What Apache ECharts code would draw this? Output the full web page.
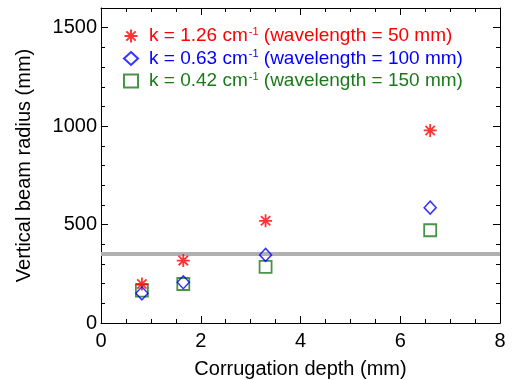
<!DOCTYPE html>
<html>
<head>
<meta charset="utf-8">
<script src="https://cdn.jsdelivr.net/npm/echarts@6/dist/echarts.min.js"></script>
<style>html,body{margin:0;padding:0;background:#fff}#c{width:512px;height:380px}</style>
</head>
<body>
<div id="c"></div>
<script>
// corrugation depth (mm)
const depths = [0.82, 1.65, 3.3, 6.6];
// vertical beam radius (mm) per wavenumber
const radius126 = [198, 317, 519, 978];
const radius063 = [151, 207, 346, 586];
const radius042 = [164, 198, 285, 471];
const seriesNames = [
  'k = 1.26 cm-1 (wavelength = 50 mm)',
  'k = 0.63 cm-1 (wavelength = 100 mm)',
  'k = 0.42 cm-1 (wavelength = 150 mm)'
];
const refLevel = 350;

const FONT = 'Liberation Sans, Arial, sans-serif';
const starPath = 'path://M0,-6L0,6M-6,0L6,0M-4.3,-4.3L4.3,4.3M-4.3,4.3L4.3,-4.3';

const pts = arr => arr.map((v, i) => [depths[i], v]);

const chart = echarts.init(document.getElementById('c'), null, { renderer: 'canvas' });

const xBase = {
  type: 'value', min: 0, max: 8, interval: 2,
  axisLine: { show: true, onZero: false, lineStyle: { color: '#000', width: 1 } },
  axisTick: { show: true, inside: true, length: 7, lineStyle: { color: '#000' } },
  minorTick: { show: true, splitNumber: 4, length: 4, lineStyle: { color: '#000' } },
  splitLine: { show: false }
};
const yBase = {
  type: 'value', min: 0, max: 1600, interval: 500,
  axisLine: { show: true, onZero: false, lineStyle: { color: '#000', width: 1 } },
  axisTick: { show: true, inside: true, length: 7, lineStyle: { color: '#000' } },
  minorTick: { show: true, splitNumber: 5, length: 4, lineStyle: { color: '#000' } },
  splitLine: { show: false }
};

chart.setOption({
  animation: false,
  backgroundColor: '#fff',
  grid: { left: 101, right: 12, top: 8, bottom: 57, outerBoundsMode: 'none', containLabel: false },
  legend: {
    orient: 'vertical',
    left: 118, top: 21,
    itemGap: 3,
    itemWidth: 14, itemHeight: 13,
    data: [
      { name: seriesNames[0], textStyle: { color: '#ff0000' } },
      { name: seriesNames[1], textStyle: { color: '#0000ff' } },
      { name: seriesNames[2], textStyle: { color: '#1a7a1a' } }
    ],
    formatter: n => n.replace('cm-1', 'cm{sup|-1}'),
    textStyle: {
      fontFamily: FONT, fontSize: 19, padding: [0, 0, 0, 6],
      rich: { sup: { fontSize: 11, verticalAlign: 'top', padding: [0, 0, 9, 1], fontFamily: FONT } }
    }
  },
  xAxis: [
    Object.assign({}, xBase, {
      position: 'bottom',
      name: 'Corrugation depth (mm)', nameLocation: 'middle', nameGap: 36,
      nameTextStyle: { fontFamily: FONT, fontSize: 20, color: '#000' },
      axisLabel: { fontFamily: FONT, fontSize: 20, color: '#000', margin: 8 }
    }),
    Object.assign({}, xBase, { position: 'top', axisLabel: { show: false } })
  ],
  yAxis: [
    Object.assign({}, yBase, {
      position: 'left',
      name: 'Vertical beam radius (mm)', nameLocation: 'middle', nameGap: 67,
      nameTextStyle: { fontFamily: FONT, fontSize: 20, color: '#000' },
      axisLabel: {
        fontFamily: FONT, fontSize: 20, color: '#000', margin: 4,
        showMaxLabel: false, formatter: v => String(v)
      }
    }),
    Object.assign({}, yBase, { position: 'right', axisLabel: { show: false } })
  ],
  series: [
    {
      name: 'ref', type: 'line', silent: true, symbol: 'none',
      data: [[0, refLevel], [8, refLevel]],
      lineStyle: { color: '#b0b0b0', width: 4 }, z: 1
    },
    {
      name: seriesNames[0], type: 'scatter', data: pts(radius126),
      symbol: starPath, symbolSize: 13,
      itemStyle: { color: 'transparent', borderColor: '#ff0000', borderWidth: 1.8 }, z: 3
    },
    {
      name: seriesNames[1], type: 'scatter', data: pts(radius063),
      symbol: 'diamond', symbolSize: [12, 13],
      itemStyle: { color: 'transparent', borderColor: '#0000ff', borderWidth: 1.5 }, z: 4
    },
    {
      name: seriesNames[2], type: 'scatter', data: pts(radius042),
      symbol: 'rect', symbolSize: 12,
      itemStyle: { color: 'transparent', borderColor: '#1a7a1a', borderWidth: 1.8 }, z: 2
    }
  ]
});
</script>
</body>
</html>
